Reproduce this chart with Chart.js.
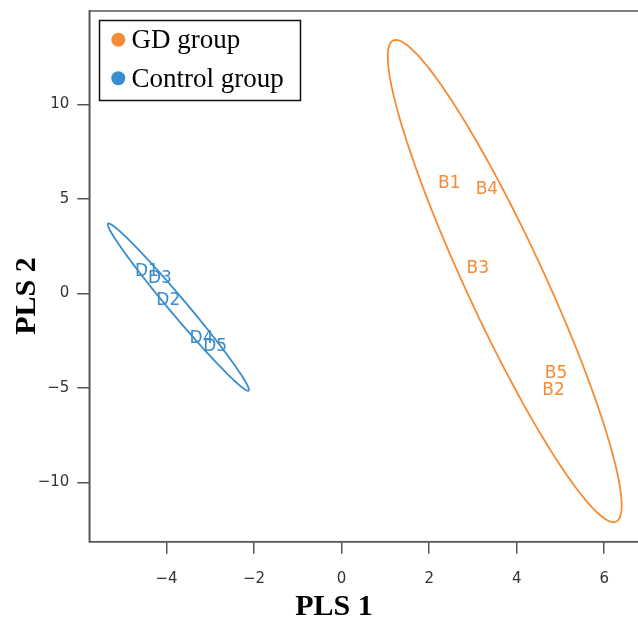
<!DOCTYPE html>
<html>
<head>
<meta charset="utf-8">
<script src="https://cdn.jsdelivr.net/npm/chart.js@4.4.0/dist/chart.umd.min.js"></script>
<style>
  html, body { margin: 0; padding: 0; background: #fff; overflow: hidden; }
  #wrap { width: 680px; height: 622px; }
</style>
</head>
<body>
<div id="wrap"><canvas id="c" width="680" height="622"></canvas></div>
<script>
// ---- data ----
const gdLabels = ['B1', 'B2', 'B3', 'B4', 'B5'];
const gdX = [2.46, 4.84, 3.11, 3.32, 4.90];
const gdY = [5.83, -5.15, 1.33, 5.51, -4.26];

const ctrlLabels = ['D1', 'D2', 'D3', 'D4', 'D5'];
const ctrlX = [-4.45, -3.96, -4.15, -3.20, -2.89];
const ctrlY = [1.15, -0.39, 0.80, -2.38, -2.82];

const seriesNames = ['GD group', 'Control group'];
const seriesColors = ['#F68B33', '#388ECC'];

const xTicksStep = 2;
const yTicksStep = 5;
const axisTitleX = 'PLS 1';
const axisTitleY = 'PLS 2';
const ellipseLevelT = 2.4477; // sqrt(qchisq(0.95, 2))

function pts(xs, ys) { return xs.map((x, i) => ({ x: x, y: ys[i] })); }

// confidence ellipse from the data (ellipse package style)
function ellipsePoints(xs, ys, t, n) {
  const m = xs.length;
  const mx = xs.reduce((a, b) => a + b, 0) / m;
  const my = ys.reduce((a, b) => a + b, 0) / m;
  let sxx = 0, syy = 0, sxy = 0;
  for (let i = 0; i < m; i++) {
    sxx += (xs[i] - mx) ** 2; syy += (ys[i] - my) ** 2; sxy += (xs[i] - mx) * (ys[i] - my);
  }
  sxx /= (m - 1); syy /= (m - 1); sxy /= (m - 1);
  const sx = Math.sqrt(sxx), sy = Math.sqrt(syy);
  const r = sxy / (sx * sy);
  const d = Math.acos(r);
  const out = [];
  for (let k = 0; k <= n; k++) {
    const a = 2 * Math.PI * k / n;
    out.push({ x: t * sx * Math.cos(a + d / 2) + mx, y: t * sy * Math.cos(a - d / 2) + my });
  }
  return out;
}

const textLabels = [gdLabels, ctrlLabels];

const ellipsePlugin = {
  id: 'ellipses',
  beforeDatasetsDraw(chart) {
    const ctx = chart.ctx, xs = chart.scales.x, ys = chart.scales.y, ca = chart.chartArea;
    ctx.save();
    ctx.beginPath(); ctx.rect(ca.left, ca.top, ca.right - ca.left, ca.bottom - ca.top); ctx.clip();
    chart.data.datasets.forEach((ds, i) => {
      const e = ellipsePoints(ds.data.map(p => p.x), ds.data.map(p => p.y), ellipseLevelT, 200);
      ctx.beginPath();
      e.forEach((p, k) => {
        const px = xs.getPixelForValue(p.x), py = ys.getPixelForValue(p.y);
        if (k === 0) ctx.moveTo(px, py); else ctx.lineTo(px, py);
      });
      ctx.closePath();
      ctx.strokeStyle = seriesColors[i];
      ctx.lineWidth = 1.8;
      ctx.stroke();
    });
    ctx.restore();
  }
};

const textPointPlugin = {
  id: 'textPoints',
  afterDatasetsDraw(chart) {
    const ctx = chart.ctx;
    ctx.save();
    ctx.font = '17px "DejaVu Sans"';
    ctx.textAlign = 'center';
    ctx.textBaseline = 'middle';
    chart.data.datasets.forEach((ds, i) => {
      const meta = chart.getDatasetMeta(i);
      ctx.fillStyle = seriesColors[i];
      meta.data.forEach((el, k) => {
        ctx.fillText(textLabels[i][k], el.x, el.y);
      });
    });
    ctx.restore();
  }
};

const framePlugin = {
  id: 'frame',
  afterDraw(chart) {
    const ctx = chart.ctx, ca = chart.chartArea;
    ctx.save();
    ctx.strokeStyle = '#555';
    ctx.lineWidth = 1.5;
    ctx.strokeRect(ca.left, ca.top, ca.right - ca.left, ca.bottom - ca.top);
    // legend
    ctx.fillStyle = '#fff';
    ctx.fillRect(99.5, 20.5, 201, 80);
    ctx.strokeStyle = '#111';
    ctx.lineWidth = 1.5;
    ctx.strokeRect(99.5, 20.5, 201, 80);
    const rows = [48.3, 86.7];
    chart.data.datasets.forEach((ds, i) => {
      ctx.beginPath();
      ctx.arc(118.3, rows[i] - 8.5, 7, 0, Math.PI * 2);
      ctx.fillStyle = seriesColors[i];
      ctx.fill();
      ctx.fillStyle = '#000';
      ctx.font = '27px "Liberation Serif"';
      ctx.textAlign = 'left';
      ctx.textBaseline = 'alphabetic';
      ctx.fillText(ds.label, 131.5, rows[i]);
    });
    // axis titles
    ctx.fillStyle = '#000';
    ctx.font = 'bold 30px "Liberation Serif"';
    ctx.textAlign = 'center';
    ctx.textBaseline = 'middle';
    ctx.fillText(axisTitleX, 334, 607);
    ctx.translate(27, 296);
    ctx.rotate(-Math.PI / 2);
    ctx.fillText(axisTitleY, 0, 0);
    ctx.restore();
  }
};

const minusFmt = v => String(v).replace('-', '\u2212');

new Chart(document.getElementById('c'), {
  type: 'scatter',
  data: {
    datasets: [
      { label: seriesNames[0], data: pts(gdX, gdY), pointRadius: 0, pointHoverRadius: 0, borderColor: seriesColors[0], backgroundColor: seriesColors[0] },
      { label: seriesNames[1], data: pts(ctrlX, ctrlY), pointRadius: 0, pointHoverRadius: 0, borderColor: seriesColors[1], backgroundColor: seriesColors[1] }
    ]
  },
  options: {
    responsive: false,
    animation: false,
    devicePixelRatio: 1,
    layout: { padding: { left: 0, top: 11, right: 39, bottom: 0 } },
    plugins: { legend: { display: false }, tooltip: { enabled: false } },
    scales: {
      x: {
        type: 'linear',
        min: -5.765, max: 6.84,
        afterFit(s) { s.height = 80.3; s.paddingLeft = 0; s.paddingRight = 0; },
        ticks: { stepSize: xTicksStep, includeBounds: false, color: '#333', font: { family: 'DejaVu Sans', size: 15 }, padding: 16, maxRotation: 0, callback: minusFmt },
        grid: { drawOnChartArea: false, drawTicks: true, tickLength: 12, color: '#555', lineWidth: 1.5 },
        border: { display: true, color: '#555', width: 1.5 }
      },
      y: {
        type: 'linear',
        min: -13.14, max: 14.94,
        afterFit(s) { s.width = 89.3; s.paddingTop = 0; s.paddingBottom = 0; },
        ticks: { stepSize: yTicksStep, includeBounds: false, color: '#333', font: { family: 'DejaVu Sans', size: 15 }, padding: 8, callback: minusFmt },
        grid: { drawOnChartArea: false, drawTicks: true, tickLength: 12, color: '#555', lineWidth: 1.5 },
        border: { display: true, color: '#555', width: 1.5 }
      }
    }
  },
  plugins: [ellipsePlugin, textPointPlugin, framePlugin]
});
</script>
</body>
</html>
